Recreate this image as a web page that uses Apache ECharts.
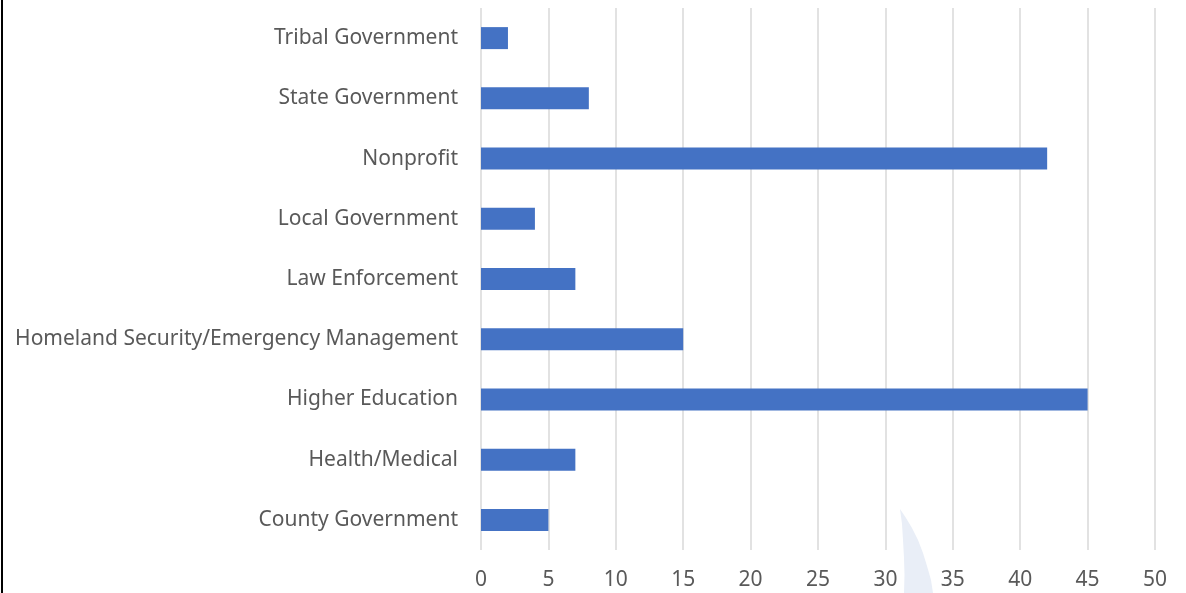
<!DOCTYPE html>
<html><head><meta charset="utf-8">
<script src="https://cdn.jsdelivr.net/npm/echarts@6/dist/echarts.min.js"></script>
<style>html,body{margin:0;padding:0;background:#fff}#c{width:1186px;height:593px}</style>
</head><body><div id="c"></div>
<script>
const categories = ["County Government","Health/Medical","Higher Education","Homeland Security/Emergency Management","Law Enforcement","Local Government","Nonprofit","State Government","Tribal Government"];
const values = [5,7,45,15,7,4,42,8,2];
const xTicks = [0,5,10,15,20,25,30,35,40,45,50];

const chart = echarts.init(document.getElementById('c'));
chart.setOption({
  animation:false,
  backgroundColor:'#ffffff',
  grid:{left:481,right:31,top:8,bottom:43,containLabel:false},
  xAxis:{type:'value',min:xTicks[0],max:xTicks[xTicks.length-1],interval:5,
    axisLine:{show:false},axisTick:{show:false},
    splitLine:{show:true,lineStyle:{color:'#d9d9d9',width:1.5}},
    axisLabel:{color:'#595959',fontSize:21,fontFamily:'Noto Sans',margin:20}},
  yAxis:{type:'category',data:categories,
    axisLine:{show:false},axisTick:{show:false},
    axisLabel:{color:'#595959',fontSize:21,fontFamily:'Noto Sans',margin:23,padding:[2,0,0,0]}},
  series:[{type:'bar',data:values,barWidth:22,itemStyle:{color:'#4472c4'}}],
  graphic:[
    {type:'rect',shape:{x:1,y:0,width:2,height:593},style:{fill:'#000'},z:100},
    {type:'polygon',shape:{points:[[900,509],[906,518],[912,528],[918,540],[923,553],[927,566],[931,580],[933,593],[904,593],[904.5,575],[904,558],[903,540],[902,524]]},style:{fill:'#e9eef7'},z:-1}
  ]
});
</script></body></html>
